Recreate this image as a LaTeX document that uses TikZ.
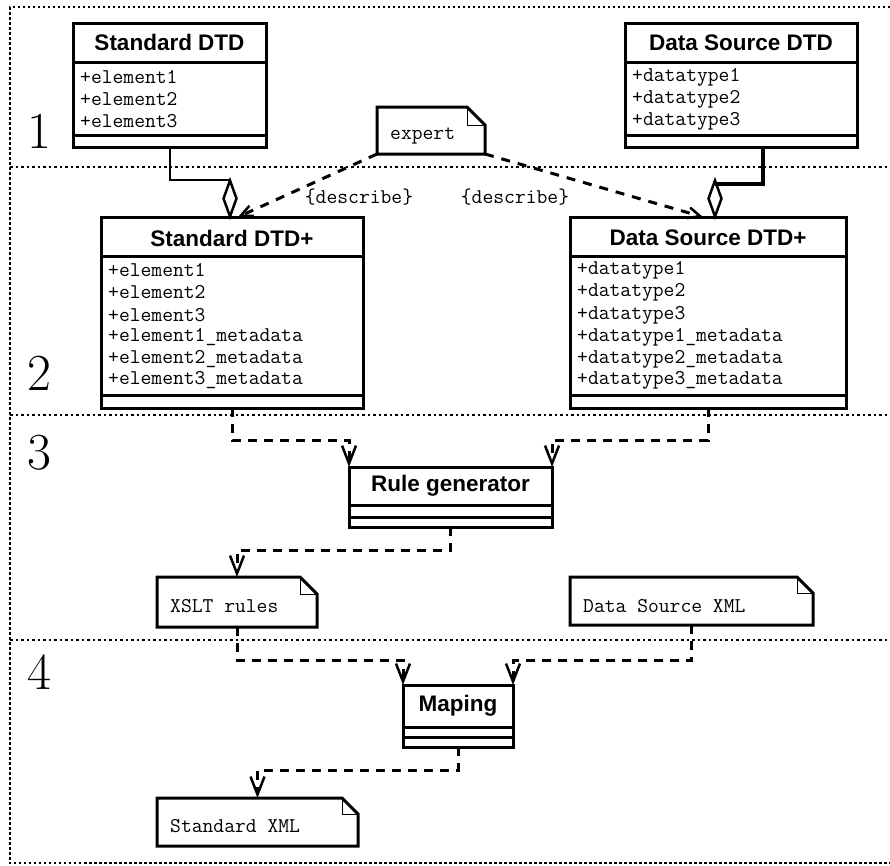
\documentclass[tikz,border=0pt]{standalone}
\usepackage{fontspec}
\newfontfamily\titlefont{Liberation Sans}
\usetikzlibrary{arrows.meta,shapes.geometric,calc}
\newcommand\drawnote[2]{%
  \draw[noteline] (#1.south west) -- (#1.north west) -- ([xshift=-#2]#1.north east)
     -- ([yshift=-#2]#1.north east) -- (#1.south east) -- cycle;
  \draw[line width=1pt] ([xshift=-#2]#1.north east) |- ([yshift=-#2]#1.north east);}
\begin{document}
\begin{tikzpicture}[x=1pt,y=-1pt,
  cls/.style={draw, line width=3pt, fill=white, inner sep=0pt, outer sep=0pt, anchor=north west},
  notebox/.style={draw=none, inner sep=0pt, outer sep=0pt, anchor=north west},
  noteline/.style={line width=3pt, line join=miter, fill=white},
  ttl/.style={font=\titlefont\bfseries\fontsize{22.5}{25}\selectfont, inner sep=0pt},
  attr/.style={font=\ttfamily\fontsize{21}{23}\selectfont, anchor=west, inner sep=0pt},
  lbl/.style={font=\ttfamily\fontsize{21}{23}\selectfont, inner sep=0pt},
  num/.style={font=\fontsize{52}{52}\selectfont, inner sep=0pt},
  sepl/.style={line width=3pt},
  framel/.style={line width=2pt, dash pattern=on 2.5pt off 2.5pt},
  divl/.style={line width=1.8pt, dash pattern=on 2.5pt off 3pt},
  dep/.style={line width=3pt, dash pattern=on 9pt off 7pt,
    -{Straight Barb[length=18pt,width=14pt,line width=2.5pt]}},
  desc/.style={line width=3pt, dash pattern=on 9pt off 8pt,
    -{Straight Barb[length=12pt,width=11pt,line width=2.5pt]}},
  agg/.style={draw, diamond, line width=2.5pt, fill=white, inner sep=0pt,
    minimum width=14pt, minimum height=37pt}
]
\useasboundingbox (0,0) rectangle (890,865);
% frame and section dividers
\draw[framel] (890,7) -- (10,7) -- (10,863) -- (890,863);
\draw[divl] (10,167) -- (890,167);
\draw[divl] (10,415) -- (890,415);
\draw[divl] (10,640) -- (890,640);
\node[num] (n1) at (39,131) {1};
\node[num] (n2) at (39,373) {2};
\node[num] (n3) at (39,453) {3};
\node[num] (n4) at (39,672) {4};

% Standard DTD
\node[cls, minimum width=193pt, minimum height=124pt] (sd) at (73,23) {};
\node[ttl] (sdt) at (169.5,42.5) {Standard DTD};
\draw[sepl] (73,62) -- (266,62);
\draw[sepl] (73,135) -- (266,135);
\node[attr] (sda) at (80,77) {+element1};
\node[attr] (sdb) at (80,99) {+element2};
\node[attr] (sdc) at (80,121) {+element3};

% Data Source DTD
\node[cls, minimum width=232pt, minimum height=124pt] (dsd) at (625,23) {};
\node[ttl] (dsdt) at (741,42.5) {Data Source DTD};
\draw[sepl] (625,62) -- (857,62);
\draw[sepl] (625,135) -- (857,135);
\node[attr] (dsda) at (632,77) {+datatype1};
\node[attr] (dsdb) at (632,99) {+datatype2};
\node[attr] (dsdc) at (632,121) {+datatype3};

% expert note
\node[notebox, minimum width=108pt, minimum height=47pt] (ex) at (377,107) {};
\drawnote{ex}{18pt}
\node[attr] (ext) at (390,136) {expert};

% Standard DTD+
\node[cls, minimum width=262pt, minimum height=191pt] (sdp) at (101,217) {};
\node[ttl] (sdpt) at (232,238) {Standard DTD+};
\draw[sepl] (101,256) -- (363,256);
\draw[sepl] (101,395) -- (363,395);
\node[attr] (sdp1) at (108,270) {+element1};
\node[attr] (sdp2) at (108,292) {+element2};
\node[attr] (sdp3) at (108,315) {+element3};
\node[attr] (sdp4) at (108,337) {+element1\_metadata};
\node[attr] (sdp5) at (108,359) {+element2\_metadata};
\node[attr] (sdp6) at (108,380) {+element3\_metadata};

% Data Source DTD+
\node[cls, minimum width=276pt, minimum height=191pt] (dsdp) at (570,217) {};
\node[ttl] (dsdpt) at (708,238) {Data Source DTD+};
\draw[sepl] (570,256) -- (846,256);
\draw[sepl] (570,395) -- (846,395);
\node[attr] (dsdp1) at (577,270) {+datatype1};
\node[attr] (dsdp2) at (577,292) {+datatype2};
\node[attr] (dsdp3) at (577,315) {+datatype3};
\node[attr] (dsdp4) at (577,337) {+datatype1\_metadata};
\node[attr] (dsdp5) at (577,359) {+datatype2\_metadata};
\node[attr] (dsdp6) at (577,380) {+datatype3\_metadata};

% aggregation connectors
\node[agg] (dg1) at (230,198.5) {};
\node[agg] (dg2) at (715,198.5) {};
\draw[line width=2pt] (sd.south) |- ([yshift=-1pt]dg1.north);
\draw[line width=3.5pt] ([xshift=22pt]dsd.south) |- ([yshift=-5pt]dg2.north);

% describe dependencies
\draw[desc] (ex.south west) -- ([xshift=6pt]sdp.north);
\draw[desc] (ex.south east) -- ([xshift=-5pt]dsdp.north);
\node[lbl] (lb1) at (359,197) {\{describe\}};
\node[lbl] (lb2) at (515,197) {\{describe\}};

% Rule generator
\node[cls, minimum width=203pt, minimum height=60pt] (rg) at (349,467) {};
\node[ttl] (rgt) at (450.5,486) {Rule generator};
\draw[sepl] (349,505) -- (552,505);
\draw[sepl] (349,517) -- (552,517);

% notes of section 3
\node[notebox, minimum width=160pt, minimum height=50pt] (xs) at (157,577) {};
\drawnote{xs}{17pt}
\node[attr] (xst) at (170,606) {XSLT rules};
\node[notebox, minimum width=243pt, minimum height=48pt] (dx) at (570,577) {};
\drawnote{dx}{16pt}
\node[attr] (dxt) at (583,606) {Data Source XML};

% Maping
\node[cls, minimum width=110pt, minimum height=62pt] (mp) at (403,685) {};
\node[ttl] (mpt) at (458,706) {Maping};
\draw[sepl] (403,727) -- (513,727);
\draw[sepl] (403,737) -- (513,737);

% Standard XML note
\node[notebox, minimum width=201pt, minimum height=48pt] (sx) at (157,798) {};
\drawnote{sx}{16pt}
\node[attr] (sxt) at (170,826) {Standard XML};

% dependency connectors
\draw[dep] (sdp.south) |- (rg.north west |- 0,440) -- (rg.north west);
\draw[dep] (dsdp.south) |- (rg.north east |- 0,440) -- (rg.north east);
\draw[dep] (rg.south) |- (xs.north |- 0,550) -- (xs.north);
\draw[dep] (xs.south) |- (mp.north west |- 0,660) -- (mp.north west);
\draw[dep] (dx.south) |- (mp.north east |- 0,660) -- (mp.north east);
\draw[dep] (mp.south) |- (sx.north |- 0,770) -- (sx.north);
\end{tikzpicture}
\end{document}
